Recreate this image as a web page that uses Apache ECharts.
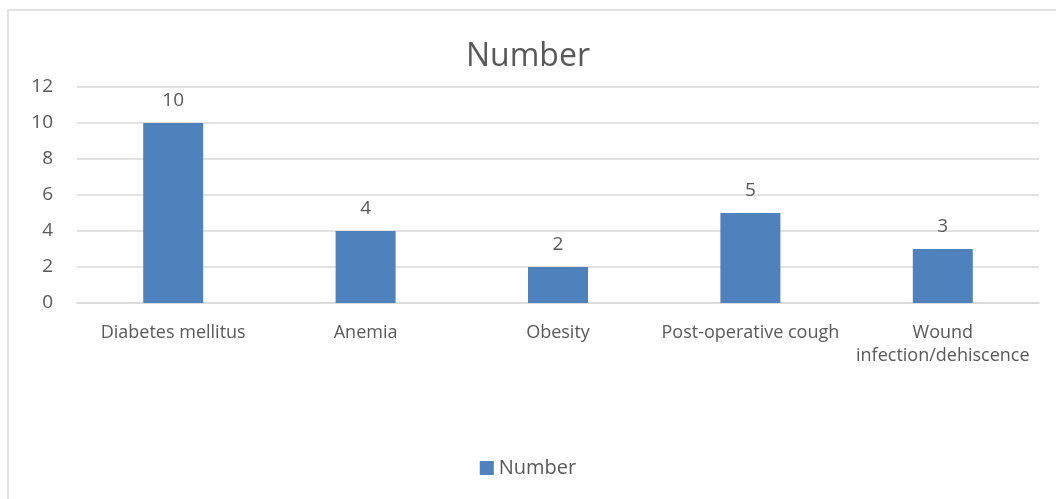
<!DOCTYPE html>
<html>
<head>
<meta charset="utf-8">
<script src="https://cdn.jsdelivr.net/npm/echarts@6/dist/echarts.min.js"></script>
<style>
  html, body { margin: 0; padding: 0; background: #fff; }
  #chart { width: 1056px; height: 499px; }
</style>
</head>
<body>
<div id="chart"></div>
<script>
// 数据
const categories = ["Diabetes mellitus", "Anemia", "Obesity", "Post-operative cough", "Wound\ninfection/dehiscence"];
const values = [10, 4, 2, 5, 3];
const yTicks = [0, 2, 4, 6, 8, 10, 12];

const textColor = "#595959";
const fontFamily = "'Open Sans', 'Noto Sans', sans-serif";

const myChart = echarts.init(document.getElementById("chart"));
myChart.setOption({
  animation: false,
  textStyle: { fontFamily: fontFamily, color: textColor },
  title: {
    text: "Number",
    left: "center",
    top: 36,
    textStyle: { fontSize: 32, fontWeight: "normal", color: textColor, fontFamily: fontFamily },
  },
  // 外框
  graphic: [
    {
      type: "rect",
      shape: { x: 8, y: 10, width: 1060, height: 500 },
      style: { fill: "none", stroke: "#d9d9d9", lineWidth: 1.5 },
      silent: true,
    },
  ],
  grid: { left: 77, right: 17, top: 87, bottom: 196 },
  legend: {
    data: ["Number"],
    bottom: 16,
    left: "center",
    icon: "rect",
    itemWidth: 14,
    itemHeight: 14,
    itemGap: 6,
    textStyle: { fontSize: 20, color: textColor, fontFamily: fontFamily },
  },
  xAxis: {
    type: "category",
    data: categories,
    axisLine: { lineStyle: { color: "#d9d9d9", width: 1.5 } },
    axisTick: { show: false },
    axisLabel: { color: textColor, fontSize: 18, margin: 18, interval: 0, lineHeight: 23 },
  },
  yAxis: {
    type: "value",
    min: yTicks[0],
    max: yTicks[yTicks.length - 1],
    interval: 2,
    axisLine: { show: false },
    axisTick: { show: false },
    axisLabel: { color: textColor, fontSize: 19, margin: 24 },
    splitLine: { lineStyle: { color: "#d9d9d9", width: 1.5 } },
  },
  series: [
    {
      name: "Number",
      type: "bar",
      data: values,
      barWidth: 60,
      itemStyle: { color: "#4f81bd" },
      label: { show: true, position: "top", fontSize: 19, color: textColor, distance: 13 },
    },
  ],
});
</script>
</body>
</html>
